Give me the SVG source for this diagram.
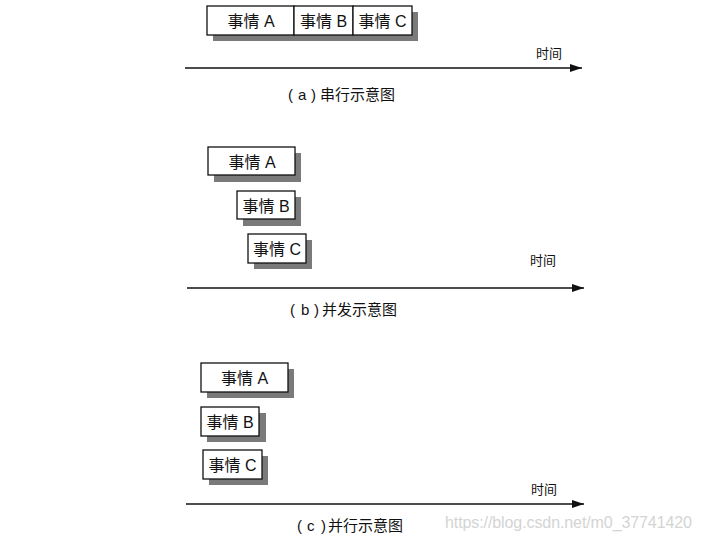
<svg xmlns="http://www.w3.org/2000/svg" width="701" height="540" viewBox="0 0 701 540">
<style>
.shadow{fill:#7a7a7a;}
.box{fill:#fff;stroke:#111;stroke-width:1.3;}
.lbl{font-family:"Liberation Sans","Noto Sans CJK SC",sans-serif;font-size:16px;fill:#111;text-anchor:middle;}
.time{font-family:"Liberation Sans","Noto Sans CJK SC",sans-serif;font-size:13px;fill:#111;text-anchor:middle;}
.cap{font-family:"Liberation Sans","Noto Sans CJK SC",sans-serif;font-size:15px;fill:#111;}
.axis{stroke:#111;stroke-width:1.3;fill:none;}
</style>
<defs>
<marker id="arr" markerWidth="12" markerHeight="8" refX="12" refY="4" orient="auto" markerUnits="userSpaceOnUse">
<path d="M0,0 L12,4 L0,8 Z" fill="#111"/>
</marker>
</defs>
<rect width="701" height="540" fill="#fff"/>

<!-- Panel a -->
<g id="a-shadow"><rect class="shadow" x="213" y="12" width="205" height="29"/></g>
<g id="a-A"><rect class="box" x="207" y="6" width="87" height="29"/><text class="lbl" x="251" y="26.5">事情 A</text></g>
<g id="a-B"><rect class="box" x="294" y="6" width="59" height="29"/><text class="lbl" x="323.5" y="26.5">事情 B</text></g>
<g id="a-C"><rect class="box" x="353" y="6" width="59" height="29"/><text class="lbl" x="382.5" y="26.5">事情 C</text></g>
<text class="time" x="549" y="58">时间</text>
<text class="cap" y="100"><tspan x="288">(</tspan><tspan x="298">a</tspan><tspan x="311">)</tspan><tspan x="320">串行示意图</tspan></text>

<!-- Panel b -->
<g id="b-A"><rect class="shadow" x="214" y="153" width="87" height="29"/><rect class="box" x="208" y="147" width="87" height="28"/><text class="lbl" x="252" y="167.5">事情 A</text></g>
<g id="b-B"><rect class="shadow" x="243" y="197" width="58" height="29"/><rect class="box" x="237" y="191" width="58" height="28"/><text class="lbl" x="266" y="211.5">事情 B</text></g>
<g id="b-C"><rect class="shadow" x="254" y="240" width="58" height="29"/><rect class="box" x="248" y="234" width="58" height="29"/><text class="lbl" x="277" y="254.5">事情 C</text></g>
<text class="time" x="543" y="265">时间</text>
<text class="cap" y="315"><tspan x="290">(</tspan><tspan x="301">b</tspan><tspan x="314">)</tspan><tspan x="322">并发示意图</tspan></text>

<!-- Panel c -->
<g id="c-A"><rect class="shadow" x="207" y="369" width="87" height="29"/><rect class="box" x="201" y="363" width="87" height="29"/><text class="lbl" x="244.5" y="383.5">事情 A</text></g>
<g id="c-B"><rect class="shadow" x="207" y="413" width="59" height="29"/><rect class="box" x="201" y="407" width="58" height="29"/><text class="lbl" x="230" y="427.5">事情 B</text></g>
<g id="c-C"><rect class="shadow" x="209" y="456" width="59" height="29"/><rect class="box" x="203" y="450" width="59" height="29"/><text class="lbl" x="232.5" y="470.5">事情 C</text></g>
<text class="time" x="544" y="494">时间</text>
<text class="cap" y="531"><tspan x="297">(</tspan><tspan x="307">c</tspan><tspan x="321">)</tspan><tspan x="328">并行示意图</tspan></text>

<g id="connectors">
<line class="axis" x1="185" y1="68" x2="582" y2="68" marker-end="url(#arr)"/>
<line class="axis" x1="187" y1="288" x2="584" y2="288" marker-end="url(#arr)"/>
<line class="axis" x1="186" y1="504" x2="584" y2="504" marker-end="url(#arr)"/>
</g>

<text x="445" y="528" font-family="Liberation Sans, sans-serif" font-size="16" fill="#d4d4d4" textLength="247">https://blog.csdn.net/m0_37741420</text>
</svg>
